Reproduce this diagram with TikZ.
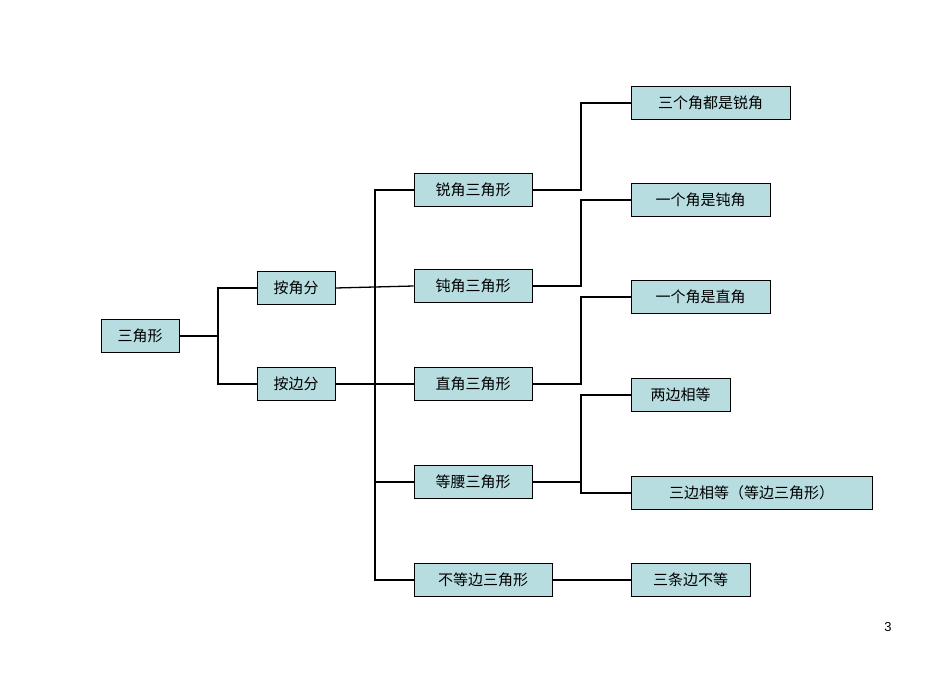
\documentclass[tikz,border=0pt]{standalone}
\usepackage{fontspec}
\newfontfamily\cjk{Noto Sans CJK SC}
\definecolor{boxfill}{RGB}{183,221,224}
\begin{document}
\begin{tikzpicture}[x=1pt,y=-1pt,
  box/.style={draw=black,fill=boxfill,rectangle,minimum height=33pt,inner sep=0pt,font=\cjk\fontsize{15}{17}\selectfont,line width=0.8pt},
  link/.style={line width=1.3pt}]
\useasboundingbox (0,0) rectangle (950,672);
\node[box,minimum width=78pt] (a) at (140,336) {三角形};
\node[box,minimum width=78pt] (b1) at (296,288) {按角分};
\node[box,minimum width=78pt] (b2) at (296,384) {按边分};
\node[box,minimum width=118pt] (c1) at (473,190) {锐角三角形};
\node[box,minimum width=118pt] (c2) at (473,286) {钝角三角形};
\node[box,minimum width=118pt] (c3) at (473,384) {直角三角形};
\node[box,minimum width=118pt] (c4) at (473,482) {等腰三角形};
\node[box,minimum width=138pt] (c5) at (483,580) {不等边三角形};
\node[box,minimum width=159pt] (d1) at (710.5,103) {三个角都是锐角};
\node[box,minimum width=139pt] (d2) at (700.5,200) {一个角是钝角};
\node[box,minimum width=139pt] (d3) at (700.5,297) {一个角是直角};
\node[box,minimum width=99pt] (d4) at (680.5,395) {两边相等};
\node[box,minimum width=241pt] (d5) at (751.5,493) {三边相等（等边三角形）};
\node[box,minimum width=119pt] (d6) at (690.5,580) {三条边不等};
\node[font=\fontspec{Liberation Sans}\fontsize{13}{15}\selectfont] (pn) at (888,627) {3};
\coordinate (j1) at (218,336);
\coordinate (j2) at (375,336);
\coordinate (j3) at (581,0);
\draw[link] (a.east) -- (j1) |- (b1.west);
\draw[link] (j1) |- (b2.west);
\draw[link] (b1.east) -- (c2.west);
\draw[link] (b2.east) -- (c3.west);
\draw[link] (c1.west) -| (375,580) -- (c5.west);
\draw[link] (375,482) -- (c4.west);
\draw[link] (c1.east) -| (j3 |- d1.west) -- (d1.west);
\draw[link] (c2.east) -| (j3 |- d2.west) -- (d2.west);
\draw[link] (c3.east) -| (j3 |- d3.west) -- (d3.west);
\draw[link] (c4.east) -- (j3 |- c4.east);
\draw[link] (d4.west) -| (j3 |- d5.west) -- (d5.west);
\draw[link] (c5.east) -- (d6.west);
\end{tikzpicture}
\end{document}
